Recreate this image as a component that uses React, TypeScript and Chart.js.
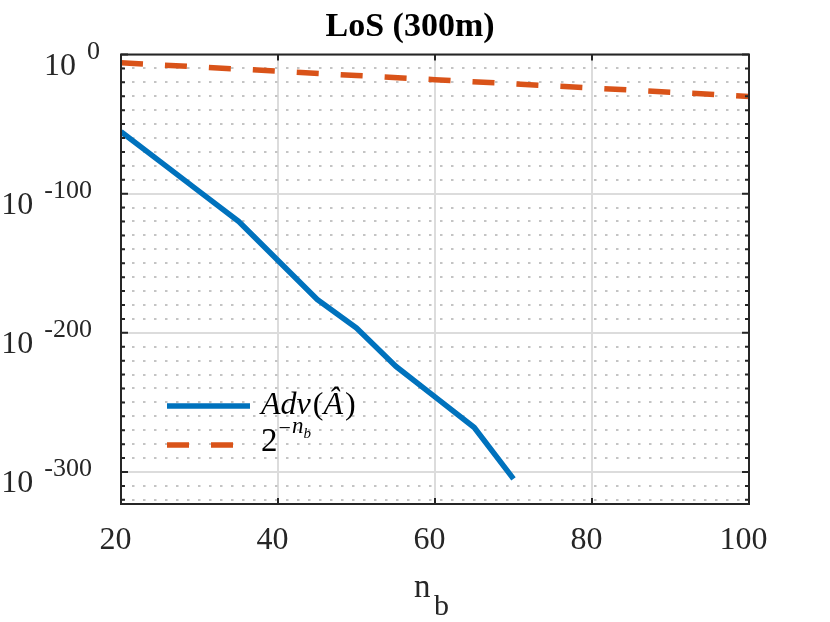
import { useEffect, useRef } from "react"
import { Chart, registerables } from "chart.js"
import type { Plugin } from "chart.js"

Chart.register(...registerables)

// n_b values and log10 of the plotted quantities
const nbAdv = [20, 25, 30, 35, 40, 45, 50, 55, 60, 65, 70]
const advLog10 = [-55.5, -77, -98.5, -120, -148, -176, -196.5, -224, -246, -268, -305]
const nbBound = [20, 30, 40, 50, 60, 70, 80, 90, 100]
const boundLog10 = [-6.0, -9.0, -12.0, -15.1, -18.1, -21.1, -24.1, -27.1, -30.1]

const xTicks = [20, 40, 60, 80, 100]
const yMajorExps = [0, -100, -200, -300]
const yMinorStep = 10
const xRange = [20, 100]
const yRange = [-323, 0]

const titleText = "LoS (300m)"

const SERIF = "'Liberation Serif', 'Times New Roman', serif"
const AXIS = "#262626"
const BLUE = "#0072BD"
const RED = "#D95319"

const decorPlugin: Plugin<"line"> = {
  id: "matlabDecor",
  afterDraw(chart) {
    const { ctx, chartArea: a, scales } = chart
    const xs = scales.x
    const ys = scales.y
    ctx.save()

    // axes box
    ctx.setLineDash([])
    ctx.strokeStyle = AXIS
    ctx.lineWidth = 2
    ctx.strokeRect(a.left, a.top, a.right - a.left, a.bottom - a.top)

    // inward tick marks
    ctx.beginPath()
    for (let v = yRange[1]; v >= yRange[0]; v -= yMinorStep) {
      const py = ys.getPixelForValue(v)
      const len = v % 100 === 0 ? 7 : 4
      ctx.moveTo(a.left, py)
      ctx.lineTo(a.left + len, py)
      ctx.moveTo(a.right, py)
      ctx.lineTo(a.right - len, py)
    }
    xTicks.forEach((v) => {
      const px = xs.getPixelForValue(v)
      ctx.moveTo(px, a.bottom)
      ctx.lineTo(px, a.bottom - 6)
      ctx.moveTo(px, a.top)
      ctx.lineTo(px, a.top + 6)
    })
    ctx.stroke()

    // y tick labels: 10^exp
    ctx.fillStyle = AXIS
    ctx.textBaseline = "alphabetic"
    yMajorExps.forEach((e) => {
      const py = ys.getPixelForValue(e)
      const expStr = String(e)
      ctx.font = `26px ${SERIF}`
      const ew = ctx.measureText(expStr).width
      const right = e === 0 ? 100 : 92
      const ex = right - ew
      ctx.textAlign = "left"
      ctx.fillText(expStr, ex, py + 4)
      ctx.font = `32px ${SERIF}`
      ctx.textAlign = "right"
      ctx.fillText("10", ex - 11, py + 20)
    })

    // x axis title n_b
    ctx.textAlign = "left"
    ctx.font = `33px ${SERIF}`
    ctx.fillText("n", 414, 597)
    ctx.font = `30px ${SERIF}`
    ctx.fillText("b", 434, 615)

    // title
    ctx.fillStyle = "#000"
    ctx.textAlign = "center"
    ctx.font = `bold 34px ${SERIF}`
    ctx.fillText(titleText, 410, 36)

    // legend
    ctx.lineCap = "butt"
    ctx.lineWidth = 5.5
    ctx.strokeStyle = BLUE
    ctx.beginPath()
    ctx.moveTo(167, 406)
    ctx.lineTo(250, 406)
    ctx.stroke()
    ctx.strokeStyle = RED
    ctx.setLineDash([22, 22])
    ctx.beginPath()
    ctx.moveTo(167, 445)
    ctx.lineTo(250, 445)
    ctx.stroke()
    ctx.setLineDash([])

    ctx.fillStyle = "#000"
    ctx.textAlign = "left"
    let tx = 261
    const piece = (s: string, font: string, x: number, y: number) => {
      ctx.font = font
      ctx.fillText(s, x, y)
      return x + ctx.measureText(s).width
    }
    tx = piece("Adv", `italic 32px ${SERIF}`, tx, 414)
    tx = piece("(", `32px ${SERIF}`, tx + 2, 414)
    tx = piece("\u00C2", `italic 32px ${SERIF}`, tx, 414)
    piece(")", `32px ${SERIF}`, tx + 2, 414)

    tx = piece("2", `33px ${SERIF}`, 261, 451)
    tx = piece("\u2212", `22px ${SERIF}`, tx + 1, 435)
    tx = piece("n", `italic 23px ${SERIF}`, tx + 1, 433)
    piece("b", `italic 15px ${SERIF}`, tx, 438)

    ctx.restore()
  },
}

export default function App() {
  const chartRef = useRef<HTMLCanvasElement>(null)
  const chartInstance = useRef<Chart | null>(null)

  useEffect(() => {
    if (!chartRef.current) return
    if (chartInstance.current) {
      chartInstance.current.destroy()
    }
    const ctx = chartRef.current.getContext("2d")
    if (!ctx) return

    chartInstance.current = new Chart(ctx, {
      type: "line",
      data: {
        datasets: [
          {
            label: "Adv(Â)",
            data: nbAdv.map((n, i) => ({ x: n, y: advLog10[i] })),
            borderColor: BLUE,
            borderWidth: 5.5,
            borderCapStyle: "butt",
            borderJoinStyle: "round",
            pointRadius: 0,
            tension: 0,
          },
          {
            label: "2^-nb",
            data: nbBound.map((n, i) => ({ x: n, y: boundLog10[i] })),
            borderColor: RED,
            borderWidth: 5.5,
            borderDash: [22, 22],
            borderCapStyle: "butt",
            pointRadius: 0,
            tension: 0,
          },
        ],
      },
      options: {
        responsive: false,
        animation: false,
        events: [],
        layout: { padding: { top: 54.5, right: 81, left: 0, bottom: 0 } },
        plugins: {
          legend: { display: false },
          title: { display: false },
          tooltip: { enabled: false },
        },
        scales: {
          x: {
            type: "linear",
            min: xRange[0],
            max: xRange[1],
            afterBuildTicks: (scale) => {
              scale.ticks = xTicks.map((v) => ({ value: v }))
            },
            afterFit: (scale) => {
              scale.height = 118
            },
            grid: { color: "#dcdcdc", lineWidth: 2, drawTicks: false },
            border: { display: false },
            ticks: {
              font: { family: SERIF, size: 32 },
              color: AXIS,
              padding: 17,
              labelOffset: -5.5,
              maxRotation: 0,
              autoSkip: false,
            },
          },
          y: {
            type: "linear",
            min: yRange[0],
            max: yRange[1],
            afterBuildTicks: (scale) => {
              const t = []
              for (let v = yRange[1]; v >= yRange[0]; v -= yMinorStep) t.push({ value: v })
              scale.ticks = t
            },
            afterFit: (scale) => {
              scale.width = 121
            },
            grid: {
              color: (c) => (c.tick && c.tick.value % 100 === 0 ? "#dcdcdc" : "#c4c4c4"),
              lineWidth: 2,
              drawTicks: false,
            },
            border: {
              display: false,
              dash: (c) => (c.tick && c.tick.value % 100 === 0 ? [] : [2.5, 8.5]),
            },
            ticks: { display: false },
          },
        },
      },
      plugins: [decorPlugin],
    })

    return () => {
      if (chartInstance.current) {
        chartInstance.current.destroy()
        chartInstance.current = null
      }
    }
  }, [])

  return (
    <div style={{ position: "absolute", left: 0, top: 0, width: 830, height: 622, background: "#fff" }}>
      <canvas ref={chartRef} width={830} height={622} aria-label="LoS (300m)"></canvas>
    </div>
  )
}
